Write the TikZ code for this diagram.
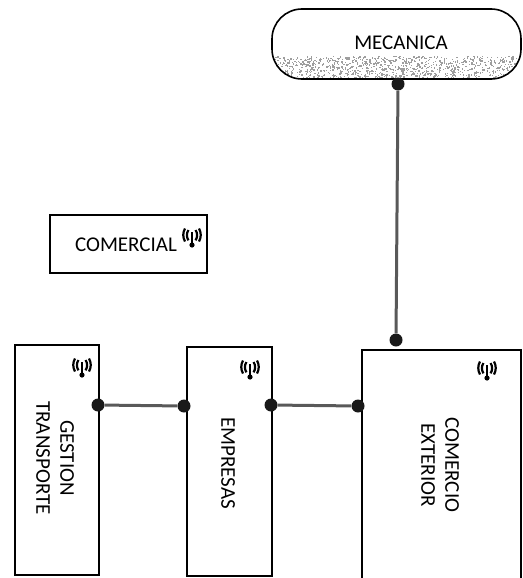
\documentclass[tikz,border=0pt]{standalone}
\usepackage{fontspec}
\setmainfont{Carlito}
\tikzset{
  box/.style={draw=black,line width=1.9pt,fill=white,inner sep=0pt,anchor=north west},
  lbl/.style={font=\fontsize{21}{24}\selectfont,align=center,text=black},
  rlbl/.style={lbl,rotate=-90},
  dot/.style={circle,fill=black!90,draw=none,minimum size=13pt,inner sep=0pt},
  link/.style={draw=black!65,line width=3pt},
  wifi/.pic={
    \draw[line width=2.2pt] (-3.5,-6) arc[start angle=145,end angle=215,radius=9pt];
    \draw[line width=2.2pt] (3.5,-6) arc[start angle=35,end angle=-35,radius=9pt];
    \draw[line width=2.2pt] (-7,-7.5) arc[start angle=150,end angle=210,radius=13pt];
    \draw[line width=2.2pt] (7,-7.5) arc[start angle=30,end angle=-30,radius=13pt];
    \draw[line width=2pt] (0,-4) -- (0,9);
    \fill (0,9) circle[radius=2.6pt];
  }
}
\begin{document}
\begin{tikzpicture}[x=1pt,y=-1pt]
\useasboundingbox (0,0) rectangle (522,578);
% cloud
\begin{scope}
\clip[rounded corners=30pt] (272,9) rectangle (521,79);
\pgfmathsetseed{7}
\foreach \i in {1,...,1000} {
  \pgfmathsetmacro{\px}{272+249*rnd}
  \pgfmathsetmacro{\py}{78-22*rnd}
  \fill[black!38] (\px,\py) rectangle ++(1.3,1.3);
}
\end{scope}
\draw[line width=1.6pt,rounded corners=30pt] (272,9) rectangle (521,79);
\node[lbl] (mec) at (401,43) {MECANICA};
% boxes
\node[box,minimum width=157pt,minimum height=58pt] (com) at (49,214) {};
\node[lbl] at (126,245) {COMERCIAL};
\node[box,minimum width=84pt,minimum height=230pt] (ges) at (14,344) {};
\node[rlbl] at (55,458) {GESTION\\TRANSPORTE};
\node[box,minimum width=85pt,minimum height=229pt] (emp) at (186,346) {};
\node[rlbl] at (228,463) {EMPRESAS};
\node[box,minimum width=159pt,minimum height=230pt] (cex) at (361,349) {};
\node[rlbl] at (440,465) {COMERCIO\\EXTERIOR};
% icons
\pic at (192,236) {wifi};
\pic at (82,366) {wifi};
\pic at (250,368) {wifi};
\pic at (487,369) {wifi};
% connectors
\node[dot] (d1) at (98,405) {};
\node[dot] (d2) at (184,406) {};
\node[dot] (d3) at (271,405) {};
\node[dot] (d4) at (358,406) {};
\node[dot] (d5) at (398,84) {};
\node[dot] (d6) at (396,340) {};
\draw[link] (d1) -- (d2);
\draw[link] (d3) -- (d4);
\draw[link] (d5) -- (d6);
\end{tikzpicture}
\end{document}
